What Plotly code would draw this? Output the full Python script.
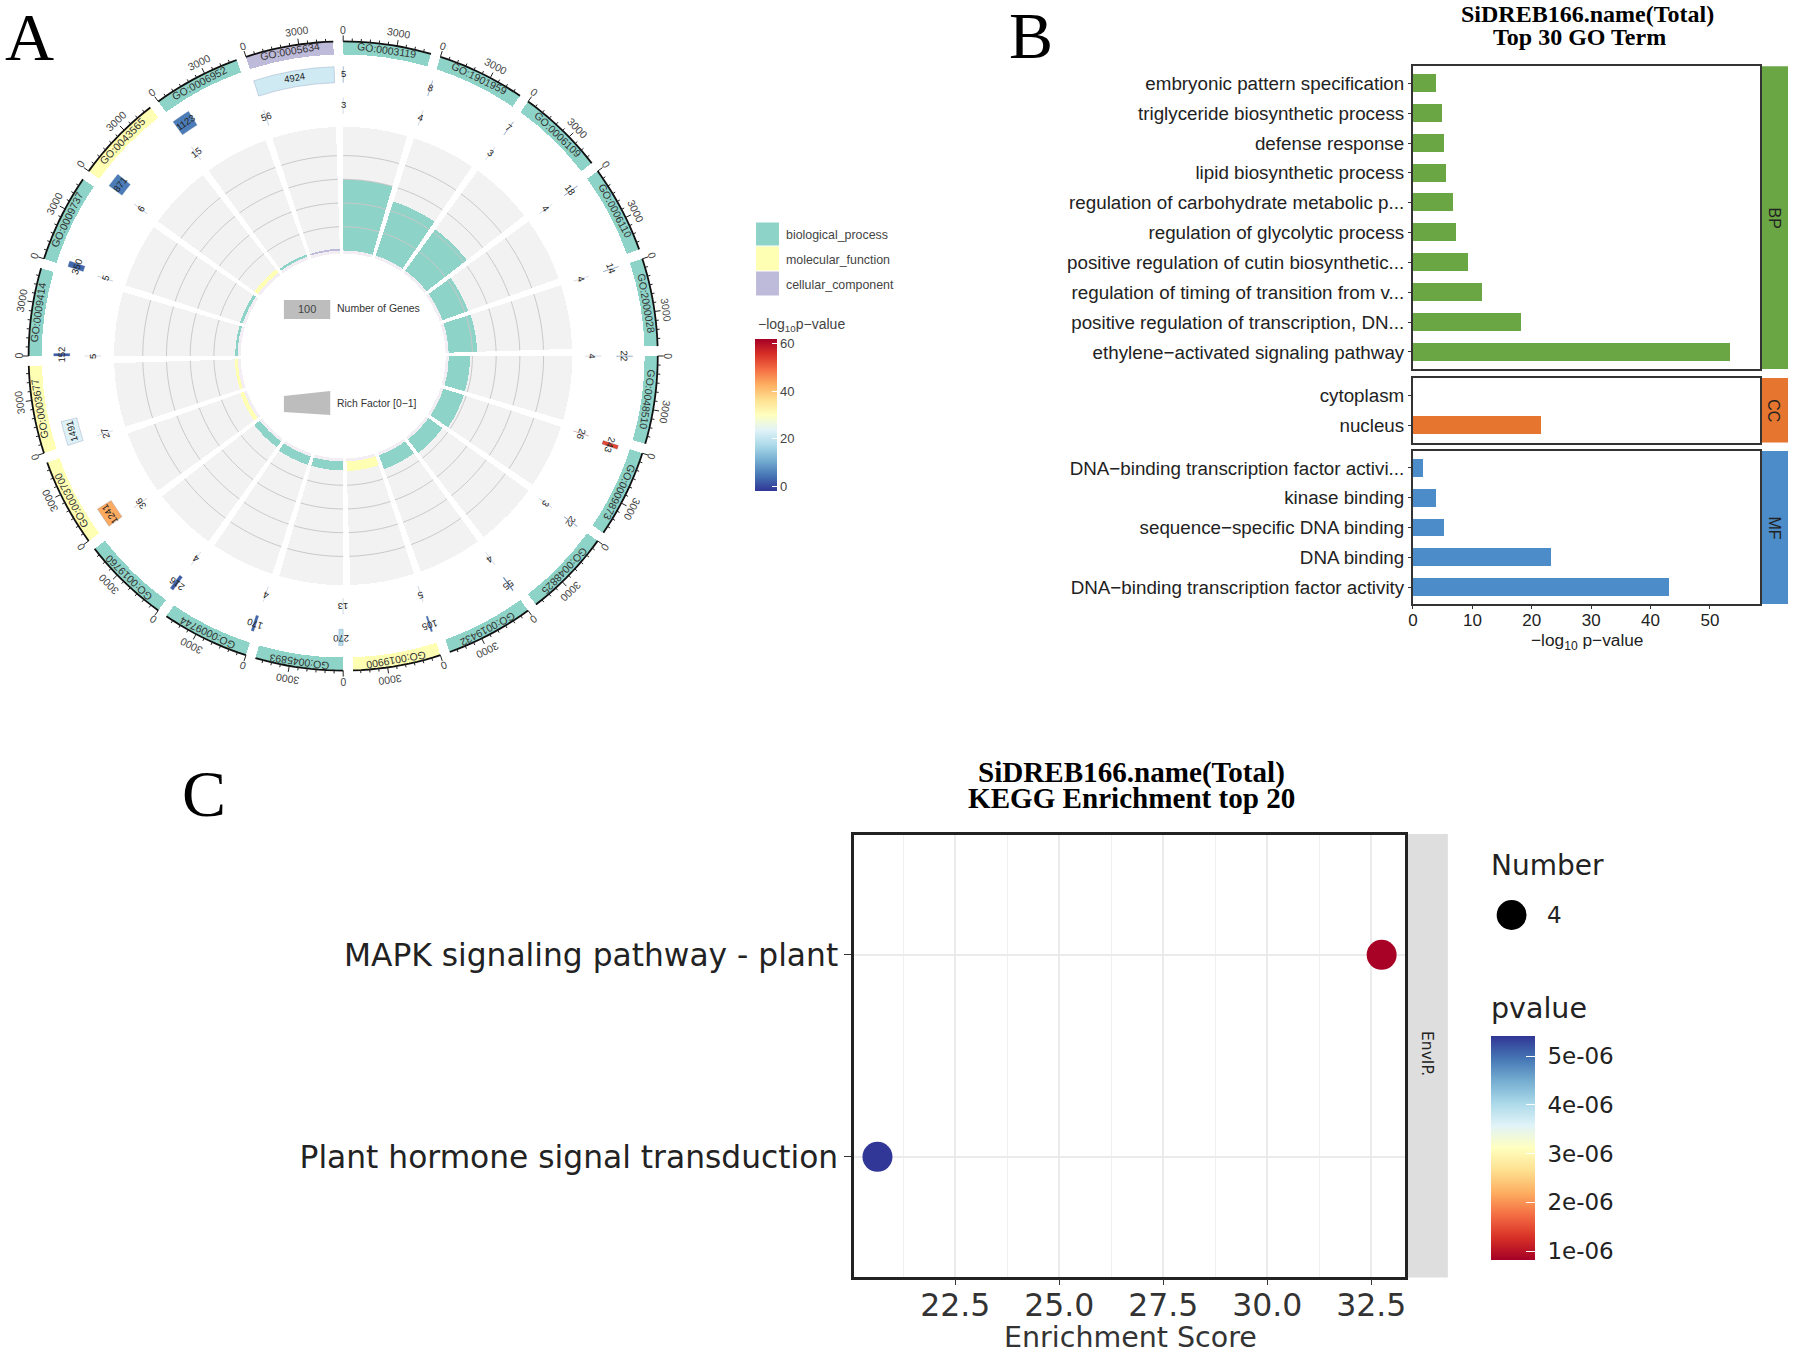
import numpy as np
import plotly.graph_objects as go

W, H = 1795, 1354

# ---------- Data: panel A ----------
go_ids = ["GO:0003119", "GO:1901959", "GO:0006109", "GO:0006110", "GO:2000028", "GO:0048510", "GO:0009873",
          "GO:0048825", "GO:0019432", "GO:0019900", "GO:0045893", "GO:0009744", "GO:0019760", "GO:0003700",
          "GO:0003677", "GO:0009414", "GO:0009737", "GO:0043565", "GO:0006952", "GO:0005634"]
go_class = ["biological_process"] * 9 + ["molecular_function"] + ["biological_process"] * 3 + \
           ["molecular_function"] * 2 + ["biological_process"] * 2 + ["molecular_function"] + \
           ["biological_process"] + ["cellular_component"]
bg_counts = [5, 8, 7, 18, 14, 22, 243, 22, 55, 105, 270, 170, 216, 1241, 1491, 152, 350, 871, 1123, 4924]
de_counts = [3, 4, 3, 4, 4, 4, 26, 3, 4, 5, 13, 4, 4, 36, 27, 5, 5, 6, 15, 56]
rich_factor = [0.6, 0.48, 0.43, 0.23, 0.24, 0.18, 0.18, 0.145, 0.125, 0.08, 0.075, 0.075, 0.06, 0.035,
               0.025, 0.02, 0.025, 0.035, 0.02, 0.015]
neglog_p = [3.9, 9.2, 6.7, 7.3, 9, 11.7, 53.3, 7, 4.9, 3.9, 18.2, 3, 2, 43.1, 23.2, 2, 3, 5.2, 5.3, 21.5]
class_colors = {"biological_process": "#8DD3C7", "molecular_function": "#FFFFB3", "cellular_component": "#BEBADA"}
axis_max = 4924
axis_ticks = [0, 500, 1000, 1500, 2000, 2500, 3000, 3500, 4000, 4500]

# ---------- Data: panel B ----------
bp_terms = ["embryonic pattern specification", "triglyceride biosynthetic process", "defense response",
            "lipid biosynthetic process", "regulation of carbohydrate metabolic p...", "regulation of glycolytic process",
            "positive regulation of cutin biosynthetic...", "regulation of timing of transition from v...",
            "positive regulation of transcription, DN...", "ethylene\u2212activated signaling pathway"]
bp_values = [3.9, 4.9, 5.3, 5.6, 6.7, 7.3, 9.2, 11.7, 18.2, 53.3]
cc_terms = ["cytoplasm", "nucleus"]
cc_values = [0, 21.5]
mf_terms = ["DNA\u2212binding transcription factor activi...", "kinase binding", "sequence\u2212specific DNA binding",
            "DNA binding", "DNA\u2212binding transcription factor activity"]
mf_values = [1.6, 3.9, 5.2, 23.2, 43.1]

# ---------- Data: panel C ----------
kegg_terms = ["MAPK signaling pathway - plant", "Plant hormone signal transduction"]
kegg_score = [32.75, 20.63]
kegg_p = [0.85e-6, 5.4e-6]
kegg_ticks = [1e-6, 2e-6, 3e-6, 4e-6, 5e-6]
kegg_tick_text = ["\u00a01e-06", "\u00a02e-06", "\u00a03e-06", "\u00a04e-06", "\u00a05e-06"]

RDYLBU = ["#313695", "#4575b4", "#74add1", "#abd9e9", "#e0f3f8", "#ffffbf", "#fee090", "#fdae61", "#f46d43",
          "#d73027", "#a50026"]
SERIF = "Liberation Serif"
SANS = "Liberation Sans"
DEJA = "DejaVu Sans"


def px(x):
    return x / W


def py(y):
    return 1 - y / H


fig = go.Figure()
ann = []
shapes = []


def text(x, y, s, size, font=SANS, color="#222", anchor="center", angle=0, bold=False):
    if bold:
        s = "<b>" + s + "</b>"
    ann.append(dict(x=px(x), y=py(y), xref="paper", yref="paper", text=s, showarrow=False,
                    xanchor=anchor, yanchor="middle", textangle=angle,
                    font=dict(family=font, size=size, color=color)))


def rect(x0, y0, x1, y1, color, layer="below"):
    shapes.append(dict(type="rect", xref="paper", yref="paper", x0=px(x0), x1=px(x1), y0=py(y0), y1=py(y1),
                       fillcolor=color, line=dict(width=0), layer=layer))


# ---------- Panel A: circular plot ----------
CX, CY, RMAX, RPX = 339.5, 356, 335, 338
STEP, SPAN = 18.0, 16.2
R_RING = (300, 313)
R_T2 = (272, 288)
R_T3 = (241, 257)
R_BAND = (105, 228)
RICH = 118.0
n = len(go_ids)
starts = [STEP * i for i in range(n)]
mids = [s + SPAN / 2 for s in starts]


def polar_text(theta, r, s, size, color="#333"):
    a = np.radians(theta)
    rr = r * RPX / RMAX
    text(CX + rr * np.sin(a), CY - rr * np.cos(a), s, size, color=color, angle=theta)


def scaled(count):
    return SPAN * count / axis_max


common = dict(subplot="polar", hoverinfo="skip", showlegend=False)
# outer ring
fig.add_trace(go.Barpolar(theta=mids, r=[R_RING[1] - R_RING[0]] * n, base=[R_RING[0]] * n, width=[SPAN] * n,
                          marker=dict(color=[class_colors[c] for c in go_class], line=dict(width=0)), **common))
# background track
fig.add_trace(go.Barpolar(theta=[s + scaled(c) / 2 for s, c in zip(starts, bg_counts)],
                          r=[R_T2[1] - R_T2[0]] * n, base=[R_T2[0]] * n, width=[scaled(c) for c in bg_counts],
                          marker=dict(color=neglog_p, coloraxis="coloraxis", line=dict(width=0.5, color="rgba(110,130,170,0.6)")),
                          **common))
# foreground count track
fig.add_trace(go.Barpolar(theta=[s + scaled(c) / 2 for s, c in zip(starts, de_counts)],
                          r=[R_T3[1] - R_T3[0]] * n, base=[R_T3[0]] * n, width=[scaled(c) for c in de_counts],
                          marker=dict(color=neglog_p, coloraxis="coloraxis", opacity=0.6,
                                      line=dict(width=0.5, color="rgba(110,130,170,0.5)")), **common))
# grey band with its thin inner rim
fig.add_trace(go.Barpolar(theta=mids, r=[R_BAND[1] - R_BAND[0]] * n, base=[R_BAND[0]] * n, width=[SPAN] * n,
                          marker=dict(color="#F2F2F2", line=dict(width=0)), **common))
fig.add_trace(go.Barpolar(theta=mids, r=[3] * n, base=[R_BAND[0] - 3] * n, width=[SPAN] * n,
                          marker=dict(color="#F3EEF3", line=dict(width=0)), **common))
# grid arcs in the band
grid_t, grid_r = [], []
for s in starts:
    arc = np.linspace(s, s + SPAN, 12).tolist()
    for g in [0.2, 0.4, 0.6, 0.8]:
        grid_t += arc + [None]
        grid_r += [R_BAND[0] + g * RICH] * 12 + [None]
fig.add_trace(go.Scatterpolar(theta=grid_t, r=grid_r, mode="lines", line=dict(color="#C9C9C9", width=1), **common))
# rich factor bars
fig.add_trace(go.Barpolar(theta=mids, r=[v * RICH for v in rich_factor], base=[R_BAND[0]] * n, width=[SPAN] * n,
                          marker=dict(color=[class_colors[c] for c in go_class], line=dict(width=0)), **common))
# genome-style axis on the ring
ax_t, ax_r = [], []
tick_t, tick_r = [], []
for s in starts:
    arc = np.linspace(s, s + SPAN, 12).tolist()
    ax_t += arc + [None]
    ax_r += [R_RING[1]] * 12 + [None]
    for v in axis_ticks:
        th = s + scaled(v)
        tick_t += [th, th, None]
        tick_r += [R_RING[1], R_RING[1] + (6 if v in (0, 3000) else 3), None]
fig.add_trace(go.Scatterpolar(theta=ax_t, r=ax_r, mode="lines", line=dict(color="#111", width=1.8), **common))
fig.add_trace(go.Scatterpolar(theta=tick_t, r=tick_r, mode="lines", line=dict(color="#222", width=1), **common))

for i in range(n):
    polar_text(mids[i], (R_RING[0] + R_RING[1]) / 2, go_ids[i], 10.5, "#333")
    polar_text(starts[i], 323, "0", 10.5, "#444")
    polar_text(starts[i] + scaled(3000), 325, "3000", 10.5, "#444")
    polar_text(starts[i] + scaled(bg_counts[i]) / 2, (R_T2[0] + R_T2[1]) / 2, str(bg_counts[i]), 9.5, "#222")
    polar_text(starts[i] + scaled(de_counts[i]) / 2, (R_T3[0] + R_T3[1]) / 2, str(de_counts[i]), 9.5, "#222")

# centre legends
rect(280, 300, 326.5, 319, "#BDBDBD", layer="above")
text(303, 309.5, "100", 11, color="#444")
text(331.5, 308, "Number of Genes", 10.5, anchor="left", color="#333")
shapes.append(dict(type="path", xref="paper", yref="paper", layer="above", fillcolor="#BDBDBD", line=dict(width=0),
                   path=f"M {px(280)} {py(396)} L {px(326.5)} {py(391)} L {px(326.5)} {py(415)} L {px(280)} {py(412)} Z"))
text(331.5, 403, "Rich Factor [0\u22121]", 10.4, anchor="left", color="#333")

# class legend
for (y0, y1, name) in [(222.5, 245.5, "biological_process"), (246.5, 270.5, "molecular_function"),
                       (271.5, 295.5, "cellular_component")]:
    rect(754, y0, 777, y1, class_colors[name])
    text(782, (y0 + y1) / 2 + 1, name, 12.4, anchor="left", color="#444")
text(754, 325, "\u2212log<sub>10</sub>p\u2212value", 14, anchor="left", color="#444")

# ---------- Panel B: bars ----------
bx0, bx1 = 1413.5, 1762
PAD = 0.57
bar_groups = [("x", "y", bp_terms, bp_values, "#6BA644", 66.3, 369, "BP"),
              ("x2", "y2", cc_terms, cc_values, "#E5752F", 378, 442.5, "CC"),
              ("x3", "y3", mf_terms, mf_values, "#4C8CC8", 451, 604, "MF")]
for xa, ya, terms, vals, col, top, bot, lab in bar_groups:
    fig.add_trace(go.Bar(x=vals, y=terms, orientation="h", width=0.6, marker=dict(color=col, line=dict(width=0)),
                         xaxis=xa, yaxis=ya, showlegend=False, hoverinfo="skip"))
    rect(bx1, top, 1790, bot, col)
    text(1776, (top + bot) / 2, lab, 16, angle=90, color="#222")

layout_axes = {}
for idx, (xa, ya, terms, vals, col, top, bot, lab) in enumerate(bar_groups):
    xkey = "xaxis" if idx == 0 else f"xaxis{idx + 1}"
    ykey = "yaxis" if idx == 0 else f"yaxis{idx + 1}"
    last = idx == 2
    layout_axes[xkey] = dict(domain=[px(bx0), px(bx1)], range=[0, 58.45], anchor=ya, showgrid=False, zeroline=False,
                             showline=True, linecolor="#333", linewidth=2, mirror=True,
                             ticks="outside" if last else "", ticklen=3, tickcolor="#333", dtick=10, tick0=0,
                             showticklabels=last, ticklabelstandoff=-3, tickfont=dict(family=SANS, size=17, color="#222"))
    layout_axes[ykey] = dict(domain=[py(bot), py(top)], type="category", categoryorder="array", categoryarray=terms,
                             range=[len(terms) - 1 + PAD, -PAD], anchor=xa, showgrid=False, zeroline=False,
                             showline=True, linecolor="#333", linewidth=2, mirror=True,
                             ticks="outside", ticklen=3, tickcolor="#333",
                             tickfont=dict(family=SANS, size=18.8, color="#222"))
text(1588, 641, "\u2212log<sub>10</sub> p\u2212value", 17.3)
text(1589, 14, "SiDREB166.name(Total)", 24, font=SERIF, color="#000", bold=True)
text(1581, 37, "Top 30 GO Term", 24, font=SERIF, color="#000", bold=True)

# ---------- Panel C: dots ----------
cx0, cx1, cy0, cy1 = 852.5, 1405, 835, 1276.6
fig.add_trace(go.Scatter(x=kegg_score, y=kegg_terms, mode="markers", xaxis="x4", yaxis="y4", showlegend=False,
                         hoverinfo="skip", marker=dict(size=30, color=kegg_p, coloraxis="coloraxis2", line=dict(width=0))))
layout_axes["xaxis4"] = dict(domain=[px(cx0), px(cx1)], range=[20.07, 33.30], anchor="y4", tick0=20, dtick=2.5,
                             showgrid=True, gridcolor="#EBEBEB", gridwidth=2, zeroline=False,
                             minor=dict(dtick=1.25, tick0=20, showgrid=True, gridcolor="#F0F0F0", gridwidth=1),
                             showline=True, linecolor="#222", linewidth=2.5, mirror=True, ticks="outside", ticklen=6,
                             ticklabelstandoff=-7, tickcolor="#333", tickformat=".1f",
                             tickfont=dict(family=DEJA, size=31.5, color="#333"))
layout_axes["yaxis4"] = dict(domain=[py(cy1), py(cy0)], type="category", categoryorder="array", categoryarray=kegg_terms,
                             range=[1.593, -0.593], anchor="x4", showgrid=True, gridcolor="#EBEBEB", gridwidth=2, zeroline=False,
                             showline=True, linecolor="#222", linewidth=2.5, mirror=True, ticks="outside", ticklen=7,
                             tickcolor="#333", tickfont=dict(family=DEJA, size=31.3, color="#222"))
rect(cx1 + 1, cy0 - 1, 1448.5, cy1 + 1, "#DEDEDE")
text(1427.5, 1054, "EnvIP.", 15.5, font=DEJA, angle=90, color="#222")
text(1129.5, 1337, "Enrichment Score", 28.5, font=DEJA, color="#333")
text(1130.5, 772, "SiDREB166.name(Total)", 29.1, font=SERIF, color="#000", bold=True)
text(1130.5, 798, "KEGG Enrichment top 20", 29.1, font=SERIF, color="#000", bold=True)
text(1490, 865, "Number", 28, font=DEJA, anchor="left", color="#222")
shapes.append(dict(type="circle", xref="paper", yref="paper", x0=px(1497.5), x1=px(1527.5), y0=py(930), y1=py(900),
                   fillcolor="#000", line=dict(width=0)))
text(1546, 915, "4", 23, font=DEJA, anchor="left", color="#222")
text(1490, 1008, "pvalue", 28.5, font=DEJA, anchor="left", color="#222")

# panel letters
text(24.5, 37, "A", 68, font=SERIF, color="#000")
text(1030.5, 36, "B", 66, font=SERIF, color="#000")
text(200, 793, "C", 66, font=SERIF, color="#000")

# ---------- Layout ----------
scale = [[i / (len(RDYLBU) - 1), c] for i, c in enumerate(RDYLBU)]
fig.update_layout(
    width=W, height=H, autosize=False, margin=dict(l=0, r=0, t=0, b=0), paper_bgcolor="white", plot_bgcolor="white",
    bargap=0, barmode="overlay",
    polar=dict(domain=dict(x=[px(CX - RPX), px(CX + RPX)], y=[py(CY + RPX), py(CY - RPX)]),
               bgcolor="rgba(0,0,0,0)", barmode="overlay",
               radialaxis=dict(visible=False, range=[0, RMAX]),
               angularaxis=dict(visible=False, direction="clockwise", rotation=90)),
    coloraxis=dict(colorscale=scale, cmin=-2, cmax=62,
                   colorbar=dict(x=px(752.5), xanchor="left", xref="paper", y=py(339), yanchor="top", yref="paper",
                                 lenmode="pixels", len=152, thicknessmode="pixels", thickness=22, xpad=0, ypad=0,
                                 outlinewidth=0, tickvals=[0, 20, 40, 60], ticks="inside", ticklen=5, tickcolor="white",
                                 tickfont=dict(family=SANS, size=13, color="#444"))),
    coloraxis2=dict(colorscale=[[i / (len(RDYLBU) - 1), c] for i, c in enumerate(RDYLBU[::-1])], cmin=0.82e-6, cmax=5.41e-6,
                    colorbar=dict(x=px(1491.5), xanchor="left", xref="paper", y=py(1036), yanchor="top", yref="paper",
                                  lenmode="pixels", len=224, thicknessmode="pixels", thickness=44, xpad=0, ypad=0,
                                  outlinewidth=0, tickvals=kegg_ticks, ticktext=kegg_tick_text, ticks="inside", ticklen=9,
                                  tickcolor="white", tickfont=dict(family=DEJA, size=23, color="#222"))),
    annotations=ann, shapes=shapes, **layout_axes)

fig.write_html("out.html", config={"displayModeBar": False},
               post_script="document.body.style.margin='0';document.body.style.overflow='hidden';")
